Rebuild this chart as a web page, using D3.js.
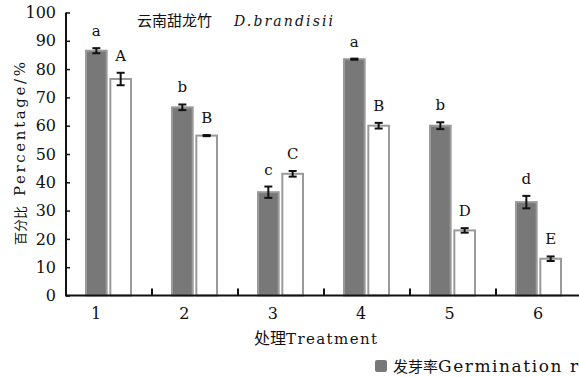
<!DOCTYPE html>
<html>
<head>
<meta charset="utf-8">
<script src="https://cdn.jsdelivr.net/npm/d3@7"></script>
<style>
  html, body { margin: 0; padding: 0; background: #fff; }
  svg { display: block; }
</style>
</head>
<body>
<svg id="chart" width="579" height="377"></svg>
<script>
// Treatments and measured percentages (mean ± error)
const treatments = ["1", "2", "3", "4", "5", "6"];
const germination = [86.5, 66.5, 36.5, 83.5, 60, 33];
const germinationErr = [0.9, 1.0, 2.0, 0.2, 1.2, 2.2];
const germinationLetters = ["a", "b", "c", "a", "b", "d"];
const secondRate = [76.5, 56.5, 43, 60, 23, 13];
const secondRateErr = [2.2, 0.2, 1.0, 1.0, 0.8, 0.8];
const secondLetters = ["A", "B", "C", "B", "D", "E"];
const yTicks = [0, 10, 20, 30, 40, 50, 60, 70, 80, 90, 100];

const serif = "'DejaVu Serif', 'Liberation Serif', serif";
const cjk = "'Noto Sans CJK SC', sans-serif";
const ink = "#111";

const svg = d3.select("#chart");
const plotLeft = 66, plotRight = 582, plotTop = 12.5, plotBottom = 295.5;

const x = d3.scaleBand().domain(treatments).range([plotLeft, plotRight]).padding(0);
const xLabel = d3.scalePoint().domain(treatments).range([96, 538]);
const inner = d3.scaleBand().domain(["g", "s"]).range([20, 65]).paddingInner(0.15);
const y = d3.scaleLinear().domain([0, 100]).range([plotBottom, plotTop]);

const rows = treatments.map((t, i) => ({
  t,
  bars: [
    { key: "g", v: germination[i], e: germinationErr[i], l: germinationLetters[i] },
    { key: "s", v: secondRate[i], e: secondRateErr[i], l: secondLetters[i] }
  ]
}));

// Bars
const groups = svg.append("g").selectAll("g").data(rows).join("g")
  .attr("transform", d => `translate(${x(d.t)},0)`);

groups.selectAll("rect").data(d => d.bars).join("rect")
  .attr("x", d => inner(d.key))
  .attr("y", d => y(d.v))
  .attr("width", inner.bandwidth())
  .attr("height", d => y(0) - y(d.v))
  .attr("fill", d => d.key === "g" ? "#787878" : "#ffffff")
  .attr("stroke", "#9a9a9a")
  .attr("stroke-width", 2);

// Error bars
groups.selectAll("g.err").data(d => d.bars).join("g").attr("class", "err")
  .each(function (d) {
    const g = d3.select(this);
    const cx = inner(d.key) + inner.bandwidth() / 2;
    const y1 = y(d.v + d.e), y2 = y(d.v - d.e);
    g.append("line").attr("x1", cx).attr("x2", cx).attr("y1", y1).attr("y2", y2)
      .attr("stroke", ink).attr("stroke-width", 2);
    [y1, y2].forEach(yy => g.append("line")
      .attr("x1", cx - 4).attr("x2", cx + 4).attr("y1", yy).attr("y2", yy)
      .attr("stroke", ink).attr("stroke-width", 2));
  });

// Significance letters
groups.selectAll("text.sig").data(d => d.bars).join("text").attr("class", "sig")
  .attr("x", d => inner(d.key) + inner.bandwidth() / 2)
  .attr("y", d => y(d.v + d.e) - 12)
  .attr("text-anchor", "middle")
  .attr("font-family", serif)
  .attr("font-size", 15)
  .attr("fill", ink)
  .text(d => d.l);

// Y axis
const yAxis = svg.append("g").attr("transform", `translate(${plotLeft},0)`)
  .call(d3.axisLeft(y).tickValues(yTicks).tickSize(-4).tickPadding(10));
yAxis.select(".domain").attr("stroke", ink).attr("stroke-width", 2)
  .attr("d", `M0,${plotTop}V${plotBottom}`);
yAxis.selectAll(".tick line").attr("stroke", ink).attr("stroke-width", 1.5);
yAxis.selectAll(".tick text").attr("font-family", serif).attr("font-size", 16).attr("fill", ink);

// X axis: line plus separators between treatments
const xAxis = svg.append("g");
xAxis.append("line").attr("x1", plotLeft - 1).attr("x2", 579).attr("y1", plotBottom).attr("y2", plotBottom)
  .attr("stroke", ink).attr("stroke-width", 2);
xAxis.selectAll("line.sep").data(treatments.slice(1)).join("line").attr("class", "sep")
  .attr("x1", d => x(d)).attr("x2", d => x(d))
  .attr("y1", plotBottom).attr("y2", plotBottom - 7)
  .attr("stroke", ink).attr("stroke-width", 2);
xAxis.selectAll("text").data(treatments).join("text")
  .attr("x", d => xLabel(d)).attr("y", 319)
  .attr("text-anchor", "middle")
  .attr("font-family", serif).attr("font-size", 16).attr("fill", ink)
  .text(d => d);

// Mixed CJK + Latin label: CJK part, optional gap, Latin part stretched to a fixed width
function mixedLabel(sel, cjkText, cjkSize, gap, latin, latinSize, latinWidth, italic) {
  sel.append("tspan").attr("font-family", cjk).attr("font-size", cjkSize).text(cjkText);
  sel.append("tspan").attr("dx", gap)
    .attr("font-family", serif).attr("font-size", latinSize)
    .attr("font-style", italic ? "italic" : "normal")
    .attr("textLength", latinWidth).attr("lengthAdjust", "spacing")
    .text(latin);
}

// Axis titles
mixedLabel(svg.append("text").attr("x", 254).attr("y", 344).attr("fill", ink),
  "处理", 16, 0, "Treatment", 15, 91, false);

mixedLabel(svg.append("text").attr("transform", "translate(25,245) rotate(-90)").attr("fill", ink),
  "百分比", 13, 10, "Percentage/%", 15, 134, false);

// Title
mixedLabel(svg.append("text").attr("x", 137).attr("y", 26).attr("fill", ink),
  "云南甜龙竹", 15, 22, "D.brandisii", 14, 99, true);

// Legend
const legend = svg.append("g");
legend.append("rect").attr("x", 375).attr("y", 360).attr("width", 12).attr("height", 12)
  .attr("rx", 2).attr("fill", "#787878");
mixedLabel(legend.append("text").attr("x", 393).attr("y", 372).attr("fill", ink),
  "发芽率", 15, 0, "Germination r", 17, 140, false);
</script>
</body>
</html>
